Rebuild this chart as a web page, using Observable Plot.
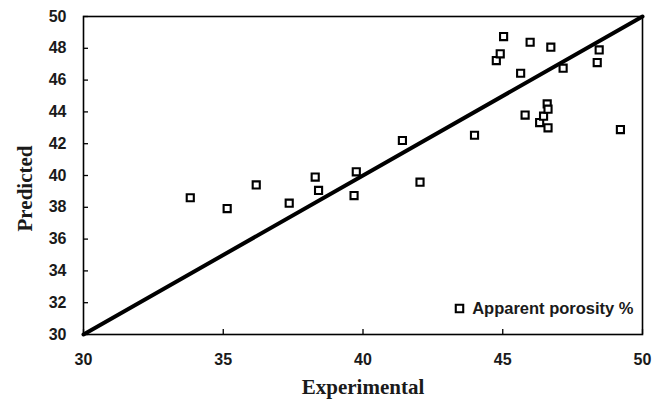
<!DOCTYPE html>
<html>
<head>
<meta charset="utf-8">
<script src="https://cdn.jsdelivr.net/npm/d3@7"></script>
<script src="https://cdn.jsdelivr.net/npm/@observablehq/plot@0.6"></script>
<style>
  html, body { margin: 0; padding: 0; background: #fff; }
  #chart { width: 652px; height: 402px; }
  #chart svg text { font-weight: bold; }
</style>
</head>
<body>
<div id="chart"></div>
<script>
const experimental = [33.82, 35.14, 36.18, 37.36, 38.29, 38.41, 39.68, 39.76, 41.41, 42.04, 43.99, 44.77, 44.91, 45.03, 45.64, 45.80, 45.98, 46.32, 46.46, 46.59, 46.62, 46.62, 46.72, 47.16, 48.38, 48.45, 49.21];
const predicted    = [38.60, 37.92, 39.41, 38.26, 39.90, 39.06, 38.74, 40.23, 42.20, 39.58, 42.53, 47.23, 47.65, 48.74, 46.43, 43.80, 48.38, 43.33, 43.73, 44.50, 44.17, 43.00, 48.07, 46.75, 47.10, 47.90, 42.89];
const fitLine = [30, 50];
const xTicks = [30, 35, 40, 45, 50];
const yTicks = [30, 32, 34, 36, 38, 40, 42, 44, 46, 48, 50];
const seriesName = "Apparent porosity %";
const xTitle = "Experimental";
const yTitle = "Predicted";

const points = experimental.map((x, i) => ({x, y: predicted[i]}));

const W = 652, H = 402;
const mL = 83, mR = 10, mT = 16, mB = 68;
const innerW = W - mL - mR, innerH = H - mT - mB;

const sans = "'Liberation Sans', Arial, sans-serif";
const serif = "'Liberation Serif', 'Times New Roman', serif";

const chart = Plot.plot({
  width: W,
  height: H,
  marginLeft: mL,
  marginRight: mR,
  marginTop: mT,
  marginBottom: mB,
  style: {fontFamily: sans, fontSize: "16px", color: "#111", background: "#fff", overflow: "visible"},
  x: {domain: [30, 50]},
  y: {domain: [30, 50]},
  marks: [
    Plot.axisX(xTicks, {tickSize: 0, tickPadding: 19, fontSize: 16, fontWeight: "bold", fill: "#1a1a1a", label: null}),
    Plot.axisY(yTicks, {tickSize: 0, tickPadding: 17, fontSize: 16, fontWeight: "bold", fill: "#1a1a1a", label: null}),
    Plot.tickX(xTicks, {x: d => d, stroke: "#000", strokeWidth: 1.3, insetTop: innerH - 5}),
    Plot.tickY(yTicks, {y: d => d, stroke: "#000", strokeWidth: 1.3, insetRight: innerW - 5}),
    Plot.frame({stroke: "#000", strokeWidth: 1.6}),
    Plot.line(fitLine, {x: d => d, y: d => d, stroke: "#000", strokeWidth: 4}),
    Plot.dot(points, {x: "x", y: "y", symbol: "square", r: 4, stroke: "#000", strokeWidth: 2.1, fill: "#fff"}),
    Plot.dot([seriesName], {frameAnchor: "bottom-right", dx: -183, dy: -26, symbol: "square", r: 4.2, stroke: "#000", strokeWidth: 2.1, fill: "#fff"}),
    Plot.text([seriesName], {text: d => d, frameAnchor: "bottom-right", dx: -9, dy: -26, textAnchor: "end", lineAnchor: "middle", fontSize: 16.5, fontWeight: "bold", fill: "#1a1a1a"}),
    Plot.text([xTitle], {text: d => d, frameAnchor: "bottom", dy: 53, textAnchor: "middle", lineAnchor: "middle", fontSize: 21, fontWeight: "bold", fontFamily: serif, fill: "#1a1a1a"}),
    Plot.text([yTitle], {text: d => d, frameAnchor: "left", dx: -58, dy: 13, rotate: -90, textAnchor: "middle", lineAnchor: "middle", fontSize: 21, fontWeight: "bold", fontFamily: serif, fill: "#1a1a1a"})
  ]
});

document.getElementById("chart").appendChild(chart);
</script>
</body>
</html>
